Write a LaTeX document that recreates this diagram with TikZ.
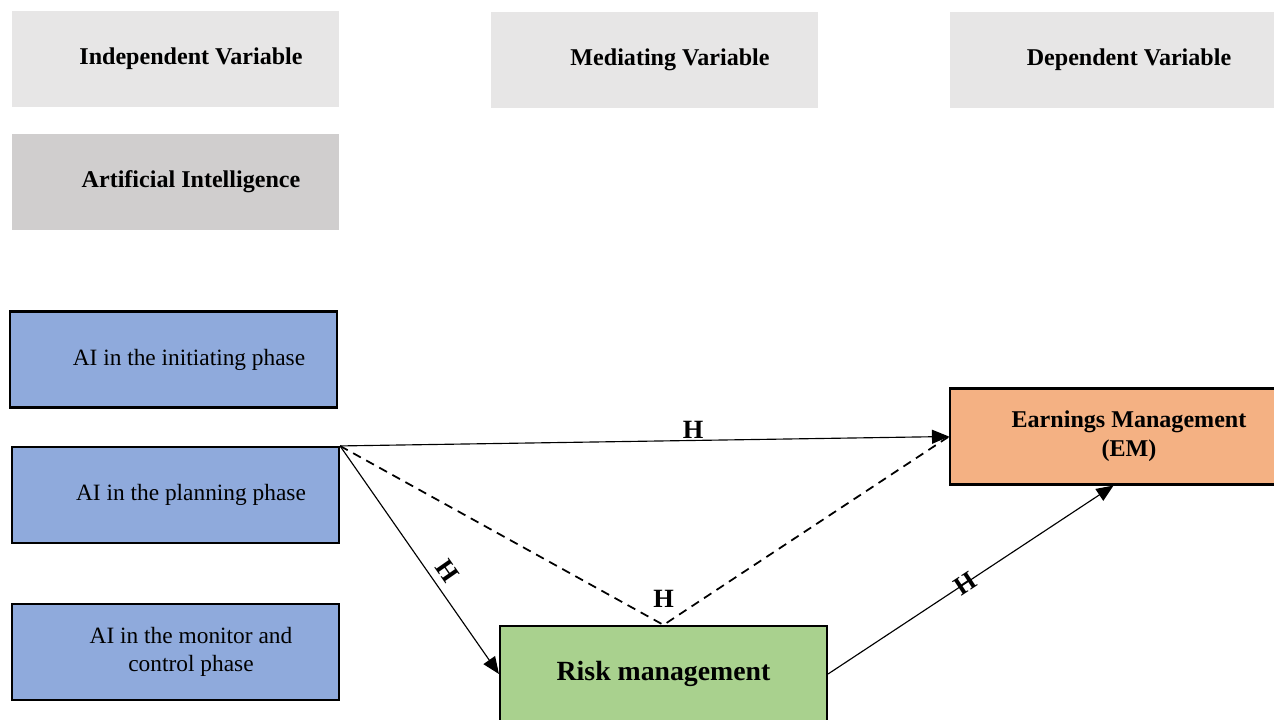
\documentclass[tikz,border=0pt]{standalone}
\usepackage{fontspec}
\setmainfont{Liberation Serif}
\usepackage{xcolor}
\usetikzlibrary{arrows.meta,positioning}
\definecolor{hdrGray}{HTML}{E7E6E6}
\definecolor{aiGray}{HTML}{D0CECE}
\definecolor{phaseBlue}{HTML}{8FAADC}
\definecolor{riskGreen}{HTML}{A9D18E}
\definecolor{emOrange}{HTML}{F4B183}
\tikzset{
  basebox/.style={rectangle,minimum width=6.54cm,minimum height=1.92cm,inner sep=2pt,
    align=center,font=\fontsize{13.3}{16}\selectfont},
  shifted/.style={execute at begin node=\hspace*{0.62cm}},
  headbox/.style={basebox,shifted,fill=hdrGray,font=\fontsize{13.7}{16}\selectfont\bfseries},
  aibox/.style={basebox,shifted,fill=aiGray,font=\fontsize{13.7}{16}\selectfont\bfseries},
  phasebox/.style={basebox,shifted,draw=black,line width=1.2pt,fill=phaseBlue},
  riskbox/.style={basebox,draw=black,line width=1.2pt,fill=riskGreen,font=\fontsize{15.8}{18}\selectfont\bfseries},
  embox/.style={basebox,shifted,draw=black,line width=1.2pt,fill=emOrange,font=\fontsize{13.7}{16.5}\selectfont\bfseries},
  arrow/.style={-{Triangle[length=0.34cm,width=0.28cm]},line width=0.65pt},
  hyp/.style={font=\fontsize{15}{18}\selectfont\bfseries,inner sep=1pt}
}
\begin{document}
\begin{tikzpicture}
  \clip (0,0) rectangle (25.48,14.4);
  \node[headbox] (iv) at (3.51,13.22) {Independent Variable};
  \node[headbox] (mv) at (13.09,13.2) {Mediating Variable};
  \node[headbox] (dv) at (22.27,13.2) {Dependent Variable};
  \node[aibox] (ai) at (3.51,10.76) {Artificial Intelligence};
  \node[phasebox] (ini) at (3.47,7.21) {AI in the initiating phase};
  \node[phasebox] (plan) at (3.51,4.50) {AI in the planning phase};
  \node[phasebox] (mon) at (3.51,1.36) {AI in the monitor and\\control phase};
  \node[riskbox] (risk) at (13.27,0.92) {Risk management};
  \node[embox] (em) at (22.27,5.67) {Earnings Management\\(EM)};
  \draw[arrow] (plan.north east) -- node[hyp,pos=0.58,above] {H} (em.west);
  \draw[arrow] (plan.north east) -- node[hyp,pos=0.59,sloped,above=3pt] {H} (risk.west);
  \draw[arrow] (risk.east) -- node[hyp,pos=0.48,sloped] {H} (em.south);
  \draw[dash pattern=on 5pt off 3.5pt,line width=1pt] (plan.north east) -- (risk.north)
    node[hyp,above=0.3cm] {H} -- (em.west);
\end{tikzpicture}
\end{document}
